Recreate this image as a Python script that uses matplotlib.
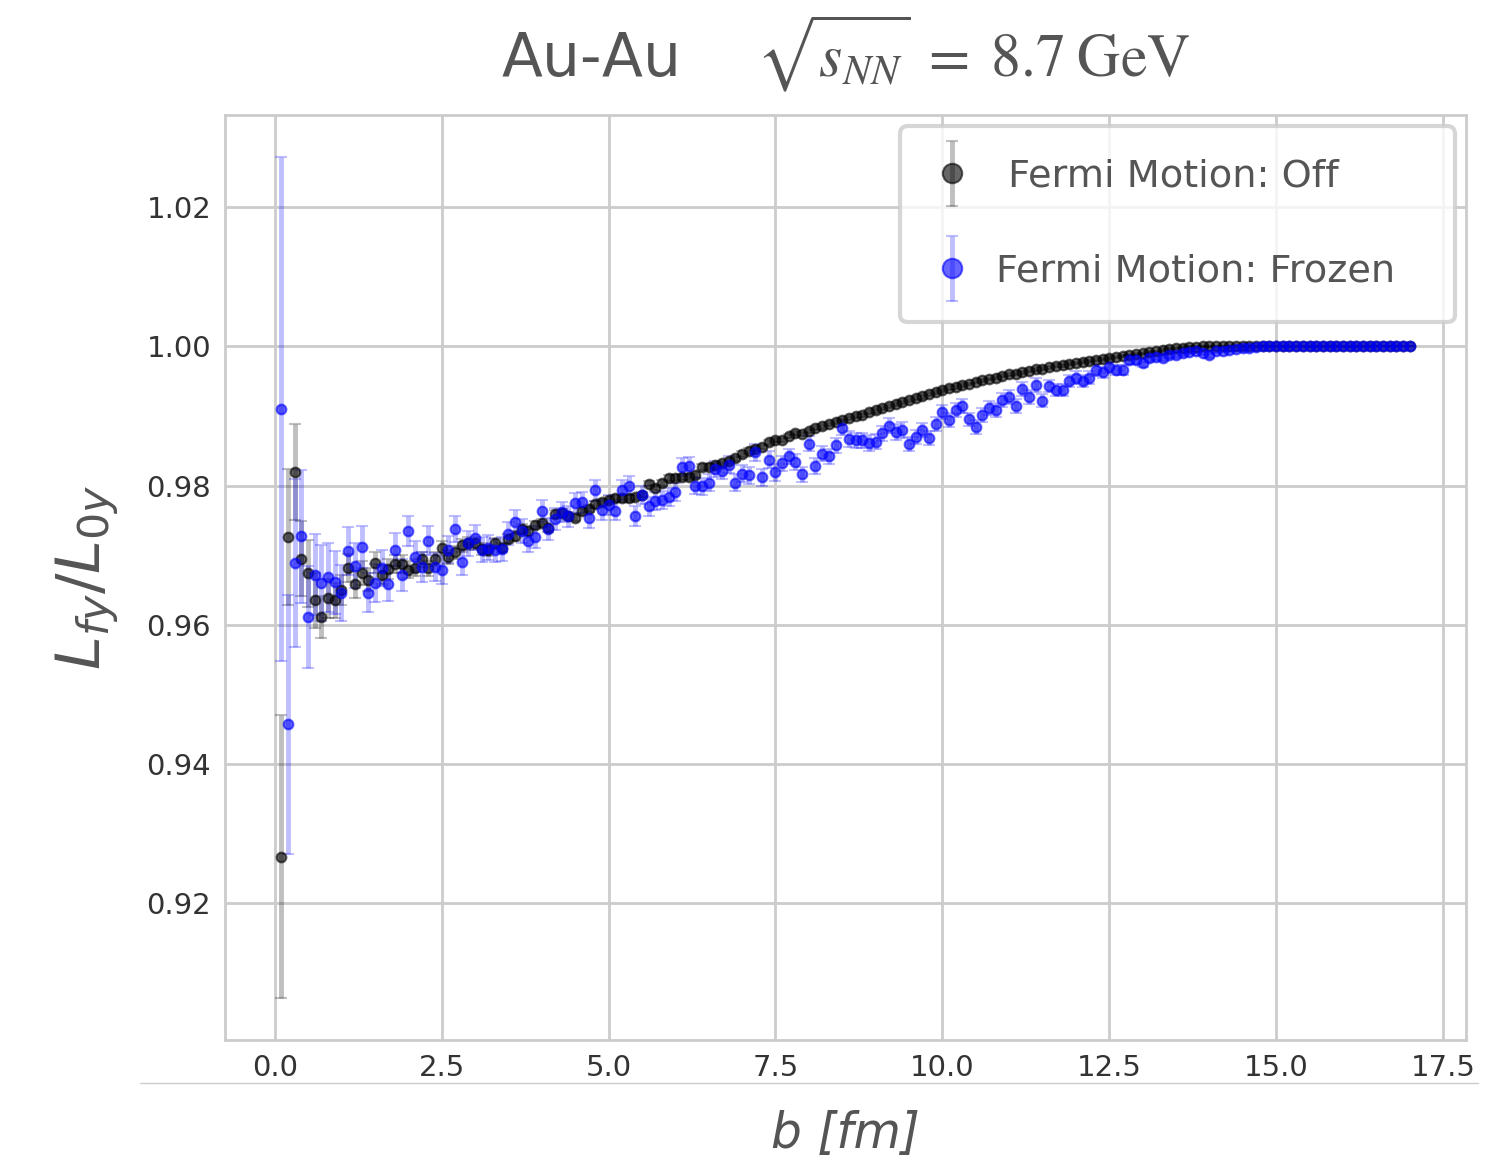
import numpy as np
import matplotlib
matplotlib.use("Agg")
import matplotlib.pyplot as plt
from matplotlib.lines import Line2D
from matplotlib.legend_handler import HandlerErrorbar

# impact parameter grid, b = 0.1 ... 17.0 fm
b = np.round(np.arange(1, 171) * 0.1, 1)

# L_fy / L_0y, Fermi motion off
ratio_off = [
    0.9267, 0.9726, 0.9819, 0.9695, 0.9674, 0.9635, 0.9611, 0.9638, 0.9635, 0.9650,
    0.9682, 0.9658, 0.9674, 0.9665, 0.9689, 0.9672, 0.9680, 0.9688, 0.9687, 0.9679,
    0.9682, 0.9694, 0.9681, 0.9694, 0.9710, 0.9697, 0.9704, 0.9714, 0.9717, 0.9717,
    0.9709, 0.9707, 0.9717, 0.9711, 0.9724, 0.9728, 0.9738, 0.9735, 0.9743, 0.9746,
    0.9739, 0.9759, 0.9761, 0.9756, 0.9754, 0.9763, 0.9767, 0.9773, 0.9776, 0.9780,
    0.9782, 0.9782, 0.9782, 0.9783, 0.9787, 0.9803, 0.9797, 0.9804, 0.9811, 0.9811,
    0.9812, 0.9812, 0.9815, 0.9827, 0.9827, 0.9829, 0.9832, 0.9835, 0.9839, 0.9845,
    0.9850, 0.9853, 0.9856, 0.9862, 0.9865, 0.9866, 0.9871, 0.9875, 0.9874, 0.9879,
    0.9883, 0.9885, 0.9889, 0.9891, 0.9894, 0.9897, 0.9900, 0.9902, 0.9906, 0.9908,
    0.9911, 0.9914, 0.9917, 0.9920, 0.9923, 0.9926, 0.9928, 0.9931, 0.9934, 0.9937,
    0.9940, 0.9942, 0.9944, 0.9946, 0.9949, 0.9951, 0.9953, 0.9955, 0.9958, 0.9960,
    0.9961, 0.9963, 0.9965, 0.9967, 0.9968, 0.9970, 0.9972, 0.9973, 0.9975, 0.9976,
    0.9978, 0.9979, 0.9981, 0.9982, 0.9984, 0.9985, 0.9986, 0.9987, 0.9989, 0.9990,
    0.9992, 0.9993, 0.9995, 0.9996, 0.9997, 0.9998, 0.9999, 0.9999, 1.0000, 1.0000,
    1.0000, 1.0000, 1.0000, 1.0000, 1.0000, 1.0000, 1.0000, 1.0000, 1.0000, 1.0000,
    1.0000, 1.0000, 1.0000, 1.0000, 1.0000, 1.0000, 1.0000, 1.0000, 1.0000, 1.0000,
    1.0000, 1.0000, 1.0000, 1.0000, 1.0000, 1.0000, 1.0000, 1.0000, 1.0000, 1.0000,
]
err_off = [
    0.0203, 0.0098, 0.0069, 0.0054, 0.0048, 0.0040, 0.0030, 0.0028, 0.0025, 0.0022,
    0.0020, 0.0019, 0.0017, 0.0016, 0.0015, 0.0014, 0.0014, 0.0013, 0.0013, 0.0012,
    0.0012, 0.0011, 0.0011, 0.0010, 0.0010, 0.0010, 0.0009, 0.0009, 0.0009, 0.0008,
    0.0008, 0.0008, 0.0008, 0.0007, 0.0007, 0.0007, 0.0007, 0.0007, 0.0006, 0.0006,
    0.0006, 0.0006, 0.0006, 0.0006, 0.0005, 0.0005, 0.0005, 0.0005, 0.0005, 0.0005,
    0.0005, 0.0005, 0.0005, 0.0004, 0.0004, 0.0004, 0.0004, 0.0004, 0.0004, 0.0004,
    0.0004, 0.0004, 0.0004, 0.0004, 0.0004, 0.0004, 0.0004, 0.0004, 0.0004, 0.0004,
    0.0004, 0.0004, 0.0003, 0.0003, 0.0003, 0.0003, 0.0003, 0.0003, 0.0003, 0.0003,
    0.0003, 0.0003, 0.0003, 0.0003, 0.0003, 0.0003, 0.0003, 0.0003, 0.0003, 0.0003,
    0.0003, 0.0003, 0.0003, 0.0003, 0.0003, 0.0003, 0.0003, 0.0003, 0.0003, 0.0003,
    0.0003, 0.0003, 0.0003, 0.0002, 0.0002, 0.0002, 0.0002, 0.0002, 0.0002, 0.0002,
    0.0002, 0.0002, 0.0002, 0.0002, 0.0002, 0.0002, 0.0002, 0.0002, 0.0002, 0.0002,
    0.0002, 0.0002, 0.0002, 0.0002, 0.0002, 0.0001, 0.0001, 0.0001, 0.0001, 0.0001,
    0.0001, 0.0001, 0.0001, 0.0001, 0.0001, 0.0001, 0.0001, 0.0001, 0.0001, 0.0001,
    0.0001, 0.0001, 0.0001, 0.0000, 0.0000, 0.0000, 0.0000, 0.0000, 0.0000, 0.0000,
    0.0000, 0.0000, 0.0000, 0.0000, 0.0000, 0.0000, 0.0000, 0.0000, 0.0000, 0.0000,
    0.0000, 0.0000, 0.0000, 0.0000, 0.0000, 0.0000, 0.0000, 0.0000, 0.0000, 0.0000,
]

# L_fy / L_0y, Fermi motion frozen
ratio_frozen = [
    0.9910, 0.9457, 0.9689, 0.9727, 0.9611, 0.9672, 0.9660, 0.9668, 0.9661, 0.9646,
    0.9706, 0.9685, 0.9712, 0.9646, 0.9660, 0.9682, 0.9659, 0.9708, 0.9671, 0.9735,
    0.9698, 0.9683, 0.9721, 0.9683, 0.9679, 0.9708, 0.9738, 0.9690, 0.9717, 0.9725,
    0.9708, 0.9711, 0.9707, 0.9709, 0.9731, 0.9748, 0.9735, 0.9721, 0.9726, 0.9764,
    0.9738, 0.9752, 0.9762, 0.9756, 0.9775, 0.9776, 0.9754, 0.9793, 0.9765, 0.9772,
    0.9764, 0.9794, 0.9800, 0.9756, 0.9786, 0.9770, 0.9778, 0.9779, 0.9783, 0.9791,
    0.9827, 0.9828, 0.9800, 0.9799, 0.9804, 0.9824, 0.9821, 0.9830, 0.9804, 0.9817,
    0.9815, 0.9848, 0.9812, 0.9837, 0.9819, 0.9832, 0.9842, 0.9834, 0.9816, 0.9860,
    0.9828, 0.9846, 0.9842, 0.9858, 0.9883, 0.9867, 0.9865, 0.9865, 0.9861, 0.9863,
    0.9875, 0.9886, 0.9877, 0.9880, 0.9860, 0.9870, 0.9880, 0.9869, 0.9888, 0.9906,
    0.9894, 0.9909, 0.9914, 0.9895, 0.9884, 0.9901, 0.9912, 0.9909, 0.9923, 0.9927,
    0.9915, 0.9939, 0.9927, 0.9944, 0.9922, 0.9943, 0.9937, 0.9937, 0.9950, 0.9955,
    0.9950, 0.9955, 0.9966, 0.9963, 0.9970, 0.9966, 0.9966, 0.9981, 0.9981, 0.9976,
    0.9983, 0.9985, 0.9984, 0.9988, 0.9987, 0.9990, 0.9992, 0.9993, 0.9990, 0.9987,
    0.9993, 0.9994, 0.9995, 0.9996, 0.9997, 0.9998, 0.9999, 1.0001, 1.0000, 1.0000,
    1.0000, 1.0000, 1.0000, 1.0000, 1.0000, 1.0000, 1.0000, 1.0000, 1.0000, 1.0000,
    1.0000, 1.0000, 1.0000, 1.0000, 1.0000, 1.0000, 1.0000, 1.0000, 1.0000, 1.0000,
]
err_frozen = [
    0.0362, 0.0186, 0.0121, 0.0096, 0.0073, 0.0058, 0.0054, 0.0050, 0.0045, 0.0040,
    0.0034, 0.0032, 0.0030, 0.0028, 0.0027, 0.0026, 0.0025, 0.0024, 0.0023, 0.0022,
    0.0022, 0.0021, 0.0021, 0.0020, 0.0020, 0.0019, 0.0019, 0.0019, 0.0018, 0.0018,
    0.0018, 0.0018, 0.0017, 0.0017, 0.0017, 0.0017, 0.0017, 0.0016, 0.0016, 0.0016,
    0.0016, 0.0016, 0.0015, 0.0015, 0.0015, 0.0015, 0.0015, 0.0015, 0.0014, 0.0014,
    0.0014, 0.0014, 0.0014, 0.0014, 0.0013, 0.0013, 0.0013, 0.0013, 0.0013, 0.0013,
    0.0013, 0.0013, 0.0012, 0.0012, 0.0012, 0.0012, 0.0012, 0.0012, 0.0012, 0.0012,
    0.0012, 0.0012, 0.0012, 0.0012, 0.0012, 0.0011, 0.0011, 0.0011, 0.0011, 0.0011,
    0.0011, 0.0011, 0.0011, 0.0011, 0.0011, 0.0011, 0.0011, 0.0011, 0.0011, 0.0011,
    0.0011, 0.0011, 0.0011, 0.0011, 0.0010, 0.0010, 0.0010, 0.0010, 0.0010, 0.0010,
    0.0010, 0.0010, 0.0010, 0.0010, 0.0010, 0.0010, 0.0010, 0.0010, 0.0010, 0.0010,
    0.0010, 0.0010, 0.0010, 0.0010, 0.0009, 0.0009, 0.0009, 0.0009, 0.0009, 0.0009,
    0.0009, 0.0009, 0.0008, 0.0008, 0.0008, 0.0007, 0.0007, 0.0006, 0.0006, 0.0006,
    0.0005, 0.0005, 0.0005, 0.0004, 0.0004, 0.0004, 0.0003, 0.0003, 0.0003, 0.0003,
    0.0002, 0.0002, 0.0002, 0.0002, 0.0002, 0.0001, 0.0001, 0.0001, 0.0001, 0.0001,
    0.0001, 0.0001, 0.0001, 0.0001, 0.0001, 0.0001, 0.0001, 0.0001, 0.0001, 0.0001,
    0.0001, 0.0001, 0.0001, 0.0001, 0.0001, 0.0000, 0.0000, 0.0000, 0.0000, 0.0000,
]

label_off = " Fermi Motion: Off"
label_frozen = "Fermi Motion: Frozen"

plt.style.use("seaborn-v0_8-whitegrid")
plt.rcParams["font.family"] = ["DejaVu Sans"]
text_grey = "#555555"

fig = plt.figure(figsize=(14.96, 11.65), dpi=100)
ax = fig.add_axes([0.1504, 0.1073, 0.8296, 0.794])

eb_off = ax.errorbar(b, ratio_off, yerr=err_off, fmt="o", ms=7,
                     mfc=(0, 0, 0, 0.6), mec=(0, 0, 0, 0.6), mew=1.5,
                     ecolor=(0, 0, 0, 0.25), elinewidth=3.5, capsize=4.5,
                     capthick=2, label=label_off)
eb_frozen = ax.errorbar(b, ratio_frozen, yerr=err_frozen, fmt="o", ms=7,
                        mfc=(0, 0, 1, 0.6), mec=(0, 0, 1, 0.6), mew=1.5,
                        ecolor=(0, 0, 1, 0.25), elinewidth=3.5, capsize=4.5,
                        capthick=2, label=label_frozen)

ax.set_xticks([0.0, 2.5, 5.0, 7.5, 10.0, 12.5, 15.0, 17.5])
ax.set_yticks([0.92, 0.94, 0.96, 0.98, 1.00, 1.02])
ax.tick_params(labelsize=21, colors="#333333", pad=10)

for s in ax.spines.values():
    s.set_color("#cccccc")
    s.set_linewidth(2)
ax.grid(True, color="#cccccc", linewidth=2)

ax.set_xlabel("b [fm]", fontsize=35, fontstyle="italic", color=text_grey, labelpad=20)
ax.set_ylabel(r"$L_{fy}/L_{0y}$", fontsize=44, color=text_grey, labelpad=18)
ax.set_title(r"Au-Au    $\sqrt{s_{NN}}\;=\;8.7\;\mathrm{GeV}$", fontsize=43,
             color=text_grey, pad=28, math_fontfamily="stix")

leg = ax.legend([eb_off, eb_frozen], [label_off, label_frozen],
                loc="upper right", bbox_to_anchor=(0.5439, 0.0, 0.4472, 0.988),
                mode="expand", fontsize=27.5, frameon=True, fancybox=True,
                borderaxespad=0.0, labelspacing=1.55, handletextpad=0.65,
                handlelength=1.0, borderpad=0.85, markerscale=2.0,
                handler_map={type(eb_off): HandlerErrorbar(yerr_size=0.85)})
leg.get_frame().set_edgecolor("#cccccc")
leg.get_frame().set_linewidth(3)
for t in leg.get_texts():
    t.set_color(text_grey)

fig.add_artist(Line2D([140 / 1496, 1478 / 1496], [1 - 1083 / 1165] * 2,
                      color="#cccccc", linewidth=1))

fig.savefig("out.png", dpi=100)
